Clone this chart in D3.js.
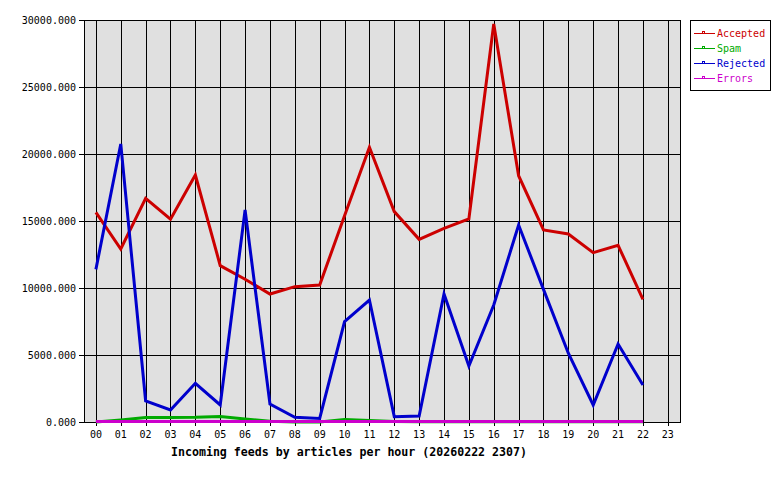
<!DOCTYPE html>
<html><head><meta charset="utf-8">
<script src="https://cdn.jsdelivr.net/npm/d3@7"></script>
<style>body{margin:0;background:#fff}svg{display:block}</style>
</head><body>
<script>
const hours = ["00","01","02","03","04","05","06","07","08","09","10","11","12","13","14","15","16","17","18","19","20","21","22","23"];
const yTicks = [0,5000,10000,15000,20000,25000,30000];
const seriesNames = ["Accepted","Spam","Rejected","Errors"];
const seriesColors = ["#cc0000","#00aa00","#0000cc","#cc00cc"];
const accepted = [15650,12910,16690,15130,18430,11670,10650,9550,10100,10220,15400,20500,15700,13630,14450,15150,29700,18380,14330,14030,12640,13190,9160];
const spam     = [0,150,340,340,350,410,220,60,0,0,190,110,40,10,10,10,10,10,10,10,10,10,10];
const rejected = [11390,20750,1570,900,2890,1270,15820,1340,350,270,7490,9100,400,450,9550,4180,8730,14700,9900,5130,1270,5820,2760];
const errors   = [40,40,40,40,40,40,40,40,40,40,40,40,40,40,40,40,40,40,40,40,40,40,40];
const title = "Incoming feeds by articles per hour (20260222 2307)";

const W = 780, H = 480;
const L = 84, R = 681, T = 20, B = 422;
const svg = d3.select("body").append("svg").attr("width", W).attr("height", H)
  .style("font-family", "'DejaVu Sans Mono', monospace");

const x = d3.scalePoint().domain(hours).range([95.9, 667.8]);
const y = d3.scaleLinear().domain([0, 30000]).range([B, T]);

// plot background
svg.append("rect").attr("x", L).attr("y", T).attr("width", R - L).attr("height", B - T)
  .attr("fill", "#e0e0e0");

const grid = svg.append("g").attr("shape-rendering", "crispEdges").attr("stroke", "#000").attr("stroke-width", 1);
yTicks.forEach(v => {
  const yy = Math.round(y(v)) + 0.5;
  grid.append("line").attr("x1", L - 5).attr("x2", R).attr("y1", yy).attr("y2", yy);
});
hours.forEach(h => {
  const xx = Math.round(x(h)) + 0.5;
  grid.append("line").attr("x1", xx).attr("x2", xx).attr("y1", T).attr("y2", B + 4);
});
grid.append("rect").attr("x", L + 0.5).attr("y", T + 0.5).attr("width", R - L - 1).attr("height", B - T)
  .attr("fill", "none");

svg.append("g").selectAll("text").data(yTicks).join("text")
  .attr("x", L - 8).attr("y", d => y(d)).attr("dy", "0.35em")
  .attr("text-anchor", "end").attr("font-size", 10).text(d => d3.format(".3f")(d));

svg.append("g").selectAll("text").data(hours).join("text")
  .attr("x", d => x(d)).attr("y", 434).attr("dy", "0.35em")
  .attr("text-anchor", "middle").attr("font-size", 10).text(d => d);

svg.append("text").attr("x", 349).attr("y", 452).attr("dy", "0.35em")
  .attr("text-anchor", "middle").attr("font-size", 11.6).attr("font-weight", "bold").text(title);

const allSeries = [accepted, spam, rejected, errors];
const line = d3.line().x((d, i) => x(hours[i])).y(d => y(d));
allSeries.forEach((s, k) => {
  svg.append("path").datum(s).attr("d", line).attr("fill", "none")
    .attr("stroke", seriesColors[k]).attr("stroke-width", 3).attr("stroke-linejoin", "miter");
});

const lg = svg.append("g");
lg.append("rect").attr("x", 690.5).attr("y", 20.5).attr("width", 80).attr("height", 70)
  .attr("fill", "#fff").attr("stroke", "#000").attr("shape-rendering", "crispEdges");
seriesNames.forEach((n, k) => {
  const yy = 33 + k * 15;
  lg.append("line").attr("x1", 694).attr("x2", 715).attr("y1", yy + 0.5).attr("y2", yy + 0.5)
    .attr("stroke", seriesColors[k]).attr("shape-rendering", "crispEdges");
  lg.append("rect").attr("x", 702.5).attr("y", yy - 1.5).attr("width", 2).attr("height", 2)
    .attr("fill", "none").attr("stroke", seriesColors[k]).attr("shape-rendering", "crispEdges");
  lg.append("text").attr("x", 717).attr("y", yy).attr("dy", "0.35em").attr("font-size", 10)
    .attr("fill", seriesColors[k]).text(n);
});
</script>
</body></html>
